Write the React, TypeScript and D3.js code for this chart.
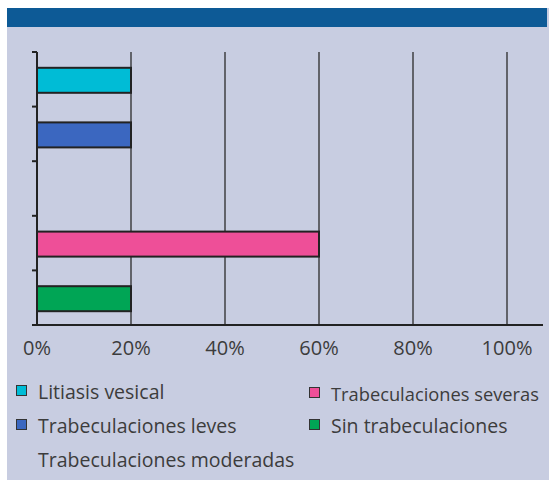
import React from "react";
import * as d3 from "d3";

const categories = [
  "Litiasis vesical",
  "Trabeculaciones leves",
  "Trabeculaciones moderadas",
  "Trabeculaciones severas",
  "Sin trabeculaciones",
];
const values = [20, 20, 0, 60, 20];
const colors = ["#00bcd6", "#3b67c0", "#c8cde1", "#ee4f98", "#00a555"];
const tickValues = [0, 20, 40, 60, 80, 100];
const tickLabels = ["0%", "20%", "40%", "60%", "80%", "100%"];

const W = 549;
const H = 480;
const FONT = "'Open Sans', 'Noto Sans', sans-serif";
const TEXT = "#3c3c3c";

export default function App() {
  const x = d3.scaleLinear().domain([0, 100]).range([37, 507]);
  const y = d3
    .scaleBand<string>()
    .domain(categories)
    .range([52, 325])
    .paddingInner(0)
    .paddingOuter(0);
  const barH = 25;
  const bandTicks = categories.map((c) => y(c)!).concat([325]);

  const legend = [
    { i: 0, x: 16, yb: 399, sq: true, fs: 19.5 },
    { i: 1, x: 16, yb: 433, sq: true, fs: 19.5 },
    { i: 2, x: 16, yb: 467, sq: false, fs: 19.5 },
    { i: 3, x: 309, yb: 401, sq: true, fs: 18.3 },
    { i: 4, x: 309, yb: 433, sq: true, fs: 19.5 },
  ];

  return (
    <svg
      width={W}
      height={H}
      style={{ position: "absolute", left: 0, top: 0, display: "block" }}
    >
      <rect x={0} y={0} width={W} height={H} fill="#ffffff" />
      <rect x={7} y={8} width={542} height={H - 8} fill="#c8cde1" />
      <rect x={7} y={8} width={540} height={19} fill="#0d5a96" />

      {/* gridlines */}
      {tickValues.slice(1).map((t) => (
        <line
          key={"g" + t}
          x1={x(t)}
          x2={x(t)}
          y1={52}
          y2={325}
          stroke="#2a2a2a"
          strokeWidth={1.3}
        />
      ))}

      {/* bars */}
      {categories.map((c, i) =>
        values[i] > 0 ? (
          <rect
            key={c}
            x={x(0)}
            y={y(c)! + y.bandwidth() / 2 - barH / 2 + 1}
            width={x(values[i]) - x(0)}
            height={barH}
            fill={colors[i]}
            stroke="#222"
            strokeWidth={2}
          />
        ) : null
      )}

      {/* y axis */}
      <line x1={37} x2={37} y1={52} y2={326} stroke="#222" strokeWidth={2} />
      {bandTicks.map((t, i) => (
        <line key={"yt" + i} x1={32} x2={37} y1={t} y2={t} stroke="#222" strokeWidth={2} />
      ))}
      {/* x axis */}
      <line x1={32} x2={543} y1={325} y2={325} stroke="#222" strokeWidth={2} />

      {tickValues.map((t, i) => (
        <text
          key={"tl" + t}
          x={x(t)}
          y={355}
          textAnchor="middle"
          fontFamily={FONT}
          fontSize={20}
          fill={TEXT}
        >
          {tickLabels[i]}
        </text>
      ))}

      {legend.map((l) => (
        <g key={"lg" + l.i}>
          {l.sq && (
            <rect
              x={l.x + 0.5}
              y={l.yb - 13.5}
              width={10}
              height={10}
              fill={colors[l.i]}
              stroke="#333"
              strokeWidth={1}
            />
          )}
          <text
            x={l.x + 22}
            y={l.yb}
            fontFamily={FONT}
            fontSize={l.fs}
            fill={TEXT}
          >
            {categories[l.i]}
          </text>
        </g>
      ))}
    </svg>
  );
}
